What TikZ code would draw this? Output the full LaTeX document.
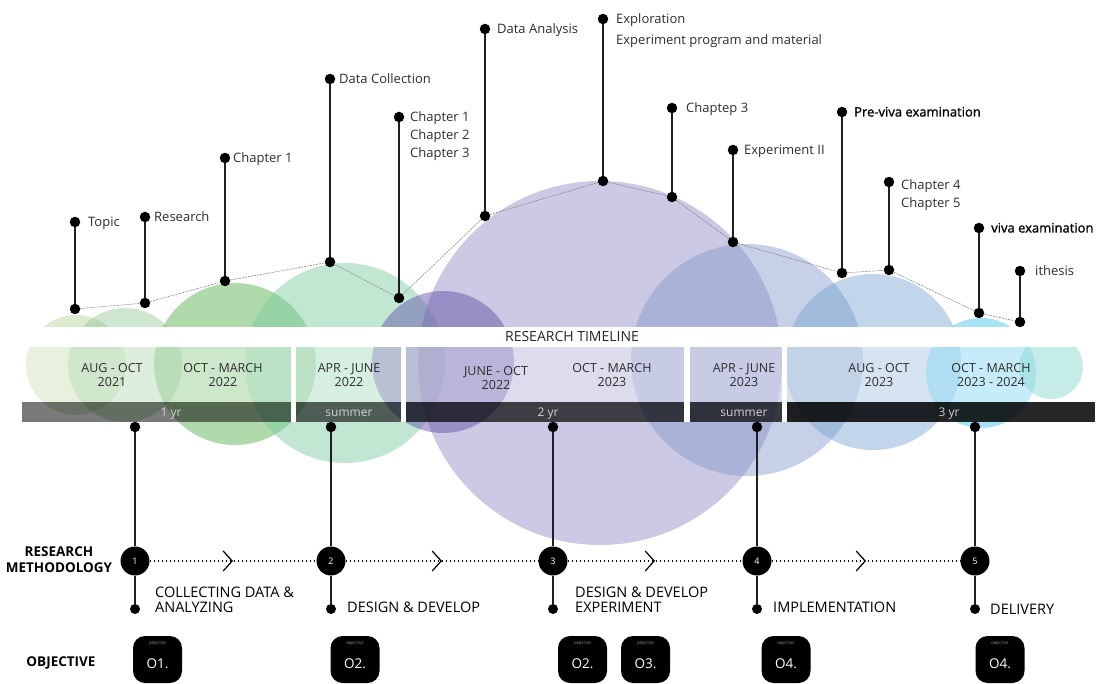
\documentclass[tikz,border=0pt]{standalone}
\usepackage{fontspec}
\setmainfont{Open Sans}
\newfontfamily\heavyfont[FakeBold=1.2]{Open Sans}
\usetikzlibrary{arrows.meta,decorations.markings}

% bubble tints (drawn semi-transparent)
\definecolor{bubA}{RGB}{177,208,144}
\definecolor{bubB}{RGB}{144,199,144}
\definecolor{bubC}{RGB}{82,174,72}
\definecolor{bubD}{RGB}{118,202,156}
\definecolor{bubE}{RGB}{93,73,166}
\definecolor{bubF}{RGB}{140,135,193}
\definecolor{bubG}{RGB}{128,150,202}
\definecolor{bubH}{RGB}{118,163,210}
\definecolor{bubI}{RGB}{60,193,233}
\definecolor{bubJ}{RGB}{62,193,180}
\definecolor{inktext}{RGB}{45,45,45}

\begin{document}
\begin{tikzpicture}[x=1pt,y=-1pt,
  bubble/.style={fill=#1,fill opacity=0.45},
  milestone/.style={circle,fill=black,inner sep=0pt,minimum size=10.5pt},
  enddot/.style={circle,fill=black,inner sep=0pt,minimum size=10pt},
  stem/.style={line width=1.8pt,black!88},
  trend/.style={line width=0.55pt,black!50,dash pattern=on 2pt off 1pt},
  toplabel/.style={anchor=base west,inner sep=0pt,text=inktext,align=left,font=\fontsize{13}{18}\selectfont},
  keylabel/.style={anchor=base west,inner sep=0pt,text=black,align=left,font=\heavyfont\fontsize{13}{18}\selectfont},
  period/.style={inner sep=0pt,anchor=base,align=center,text=inktext,font=\fontsize{12.5}{14.5}\selectfont},
  barlabel/.style={inner sep=0pt,anchor=base,text=white!82!black,font=\fontsize{12}{14}\selectfont},
  numcirc/.style={circle,fill=black,inner sep=0pt,minimum size=29pt,text=white,font=\fontsize{9}{10}\selectfont},
  flow/.style={line width=1.1pt,dash pattern=on 1.1pt off 2.9pt,postaction={decorate},
    decoration={markings,mark=at position 0.5 with {\arrow{Straight Barb[length=9pt,width=20pt,line width=1.2pt]}}}},
  phase/.style={anchor=base west,inner sep=0pt,align=left,font=\fontsize{14.5}{15}\selectfont},
  rowtitle/.style={inner sep=0pt,anchor=base,align=center,font=\bfseries\fontsize{13.5}{16}\selectfont},
  objbox/.style={fill=black,rounded corners=12pt,minimum width=49pt,minimum height=47pt,inner sep=0pt},
  objtag/.style={text=white!65!black,font=\fontsize{3.5}{4}\selectfont,inner sep=0pt},
  objnum/.style={text=white,font=\fontsize{13.5}{15}\selectfont,inner sep=0pt},
]
\useasboundingbox (0,0) rectangle (1098,684);

% ---------- bubbles ----------
\fill[bubble=bubA] (76,365) circle[radius=50pt];
\fill[bubble=bubB] (125,365) circle[radius=57pt];
\fill[bubble=bubC] (235,364) circle[radius=81pt];
\fill[bubble=bubD] (345,363) circle[radius=100pt];
\fill[bubble=bubF] (600,363) circle[radius=182pt];
\fill[bubble=bubE] (443,362) circle[radius=71pt];
\fill[bubble=bubG] (747,360) circle[radius=116pt];
\fill[bubble=bubH] (873,362) circle[radius=88pt];
\fill[bubble=bubI] (981,373) circle[radius=55pt];
\fill[bubble=bubJ] (1051,367) circle[radius=32pt];

% ---------- timeline band ----------
\fill[white] (0,327) rectangle (1098,347);
\foreach \a/\b in {22/291,296/401,406/684,690/782,787/1095}
  \fill[white,fill opacity=0.35] (\a,347) rectangle (\b,402);
\foreach \a/\b in {291/296,401/406,684/690,782/787}
  \fill[white] (\a,347) rectangle (\b,422);
\fill[black,fill opacity=0.52] (22,402) rectangle (291,422);
\fill[black,fill opacity=0.60] (296,402) rectangle (401,422);
\fill[black,fill opacity=0.70] (406,402) rectangle (684,422);
\fill[black,fill opacity=0.72] (690,402) rectangle (782,422);
\fill[black,fill opacity=0.85] (787,402) rectangle (1095,422);

\node[inner sep=0pt,anchor=base,text=black!85,font=\fontsize{14}{16}\selectfont] (bandtitle) at (572,342) {RESEARCH TIMELINE};

% multi-line nodes sit on the baseline of their last line
\node[period] (perA) at (112,387) {AUG - OCT\\2021};
\node[period] (perB) at (223,387) {OCT - MARCH\\2022};
\node[period] (perC) at (349,387) {APR - JUNE\\2022};
\node[period] (perD) at (496,390) {JUNE - OCT\\2022};
\node[period] (perE) at (612,387) {OCT - MARCH\\2023};
\node[period] (perF) at (744,387) {APR - JUNE\\2023};
\node[period] (perG) at (879,387) {AUG - OCT\\2023};
\node[period] (perH) at (991,387) {OCT - MARCH\\2023 - 2024};

\node[barlabel] (yrA) at (171,416.5) {1 yr};
\node[barlabel] (yrB) at (349,416.5) {summer};
\node[barlabel] (yrC) at (548,416.5) {2 yr};
\node[barlabel] (yrD) at (744,416.5) {summer};
\node[barlabel] (yrE) at (949,416.5) {3 yr};

% ---------- milestones above the timeline ----------
\node[milestone] (topicTop) at (75,222) {};
\node[milestone] (topicBase) at (75,309) {};
\node[milestone] (researchTop) at (145,217) {};
\node[milestone] (researchBase) at (145,303) {};
\node[milestone] (chOneTop) at (225,158) {};
\node[milestone] (chOneBase) at (225,281) {};
\node[milestone] (collectTop) at (330,79) {};
\node[milestone] (collectBase) at (330,262) {};
\node[milestone] (draftTop) at (399,117) {};
\node[milestone] (draftBase) at (399,298) {};
\node[milestone] (analysisTop) at (485,29) {};
\node[milestone] (analysisBase) at (485,216) {};
\node[milestone] (exploreTop) at (603,19) {};
\node[milestone] (exploreBase) at (603,181) {};
\node[milestone] (chThreeTop) at (672,108) {};
\node[milestone] (chThreeBase) at (672,197) {};
\node[milestone] (expTwoTop) at (733,150) {};
\node[milestone] (expTwoBase) at (733,242) {};
\node[milestone] (preVivaTop) at (842,112) {};
\node[milestone] (preVivaBase) at (842,273) {};
\node[milestone] (chFourTop) at (889,182) {};
\node[milestone] (chFourBase) at (889,270) {};
\node[milestone] (vivaTop) at (979,228) {};
\node[milestone] (vivaBase) at (979,313) {};
\node[milestone] (thesisTop) at (1020,271) {};
\node[milestone] (thesisBase) at (1020,322) {};

\draw[trend] (topicBase) -- (researchBase) -- (chOneBase) -- (collectBase) -- (draftBase)
  -- (analysisBase) -- (exploreBase) -- (chThreeBase) -- (expTwoBase) -- (preVivaBase)
  -- (chFourBase) -- (vivaBase) -- (thesisBase);

\foreach \m in {topic,research,chOne,collect,draft,analysis,explore,chThree,expTwo,preViva,chFour,viva,thesis}
  \draw[stem] (\m Top) -- (\m Base);

\node[toplabel] (topicText) at (88,226.5) {Topic};
\node[toplabel] (researchText) at (154,221.5) {Research};
\node[toplabel] (chOneText) at (233,162.5) {Chapter 1};
\node[toplabel] (collectText) at (339,83.5) {Data Collection};
\node[toplabel] (draftText) at (410,157.5) {Chapter 1\\Chapter 2\\Chapter 3};
\node[toplabel] (analysisText) at (497,33.5) {Data Analysis};
\node[toplabel] (exploreText) at (616,44.5) {Exploration\\[3pt]Experiment program and material};
\node[toplabel] (chThreeText) at (686,112.5) {Chaptep 3};
\node[toplabel] (expTwoText) at (744,154.5) {Experiment II};
\node[keylabel] (preVivaText) at (854,116.5) {Pre-viva examination};
\node[toplabel] (chFourText) at (901,207.5) {Chapter 4\\Chapter 5};
\node[keylabel] (vivaText) at (991,232.5) {viva examination};
\node[toplabel] (thesisText) at (1035,275.5) {ithesis};

% ---------- research methodology ----------
\foreach \i/\x in {1/135,2/331,3/553,4/757,5/975}{
  \node[milestone] (bar\i) at (\x,427) {};
  \node[numcirc] (step\i) at (\x,561) {\i};
  \node[enddot] (end\i) at (\x,609) {};
  \draw[stem] (bar\i) -- (step\i);
  \draw[stem] (step\i) -- (end\i);
}
\draw[flow] (step1) -- (step2);
\draw[flow] (step2) -- (step3);
\draw[flow] (step3) -- (step4);
\draw[flow] (step4) -- (step5);

\node[phase] (phaseA) at (155,612.5) {COLLECTING DATA \&\\ANALYZING};
\node[phase] (phaseB) at (347,612.5) {DESIGN \& DEVELOP};
\node[phase] (phaseC) at (575,612) {DESIGN \& DEVELOP\\EXPERIMENT};
\node[phase] (phaseD) at (773,612.5) {IMPLEMENTATION};
\node[phase] (phaseE) at (990,614.5) {DELIVERY};

\node[rowtitle] (methodTitle) at (59,572.5) {RESEARCH\\METHODOLOGY};
\node[rowtitle] (objTitle) at (61,666) {OBJECTIVE};

% ---------- objectives ----------
\foreach \k/\x/\t in {1/157.5/O1.,2/355/O2.,3/582.5/O2.,4/645.5/O3.,5/786/O4.,6/1000/O4.}{
  \node[objbox] (obj\k) at (\x,659.5) {};
  \node[objtag] (objTag\k) at (\x,644) {OBJECTIVE};
  \node[objnum] (objNum\k) at (\x,664) {\t};
}
\end{tikzpicture}
\end{document}
